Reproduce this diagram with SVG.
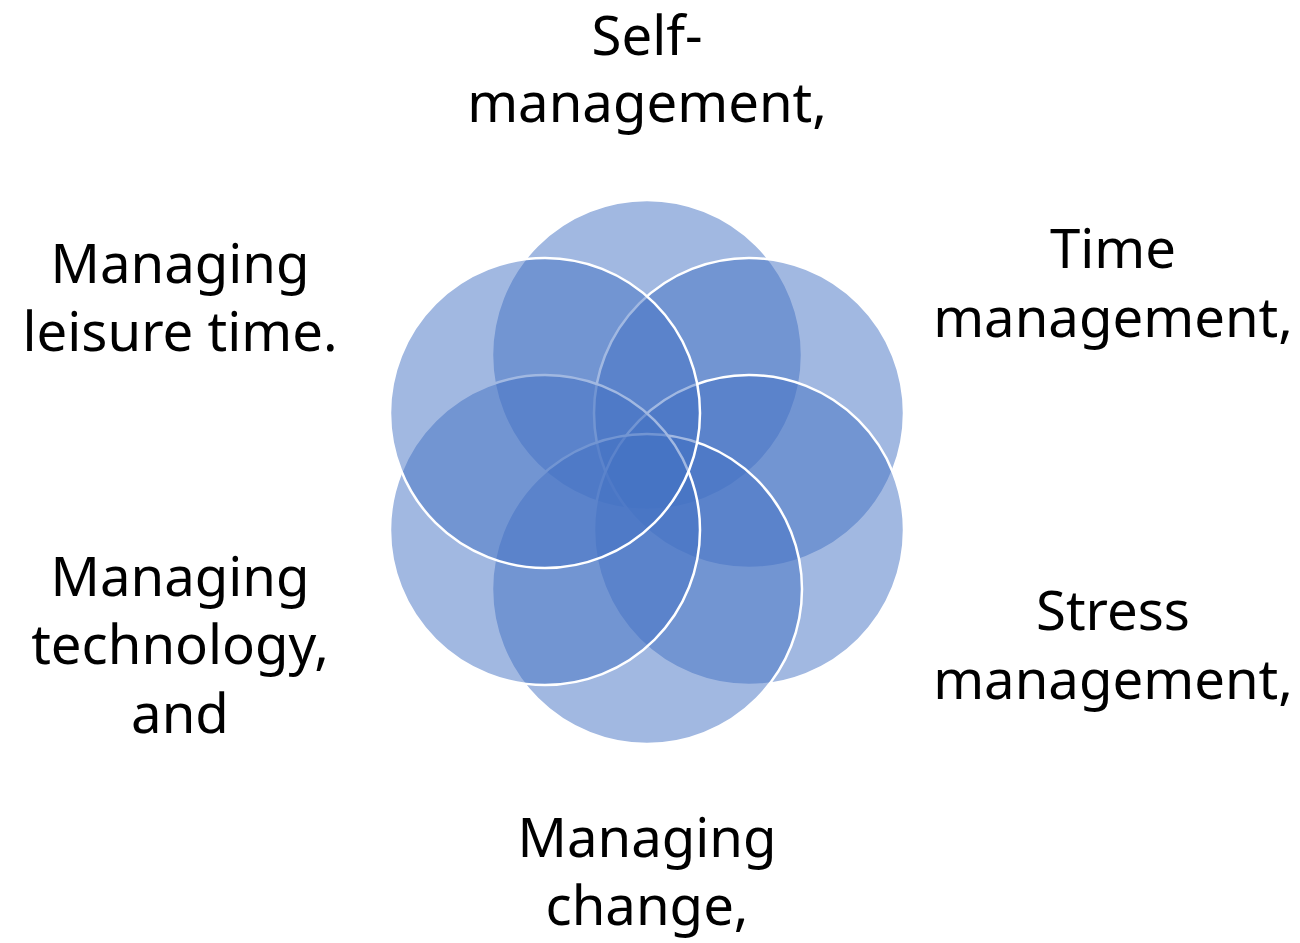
<svg xmlns="http://www.w3.org/2000/svg" width="1300" height="943" viewBox="0 0 1300 943">
  <style>
    .ring { fill: #4472C4; fill-opacity: 0.5; stroke: #FFFFFF; stroke-width: 2.5; }
    .label { font-family: "Noto Sans", "Open Sans", sans-serif; font-size: 54.5px; fill: #000000; text-anchor: middle; }
  </style>
  <rect width="1300" height="943" fill="#FFFFFF"/>

  <!-- six overlapping circles on a hexagon around the centre -->
  <g id="circles">
    <circle id="c-self" class="ring" cx="647" cy="355" r="155"/>
    <circle id="c-time" class="ring" cx="749" cy="413" r="155"/>
    <circle id="c-stress" class="ring" cx="749" cy="530" r="155"/>
    <circle id="c-change" class="ring" cx="647" cy="589" r="155"/>
    <circle id="c-technology" class="ring" cx="545" cy="530" r="155"/>
    <circle id="c-leisure" class="ring" cx="545" cy="413" r="155"/>
  </g>

  <g id="connectors"></g>

  <g id="node-self">
    <text class="label" x="647" y="55">Self-</text>
    <text class="label" x="647" y="122">management,</text>
  </g>
  <g id="node-time">
    <text class="label" x="1113" y="268">Time</text>
    <text class="label" x="1113" y="337">management,</text>
  </g>
  <g id="node-stress">
    <text class="label" x="1113" y="630">Stress</text>
    <text class="label" x="1113" y="699">management,</text>
  </g>
  <g id="node-change">
    <text class="label" x="647" y="857">Managing</text>
    <text class="label" x="647" y="925">change,</text>
  </g>
  <g id="node-technology">
    <text class="label" x="180" y="596">Managing</text>
    <text class="label" x="180" y="664">technology,</text>
    <text class="label" x="180" y="733">and</text>
  </g>
  <g id="node-leisure">
    <text class="label" x="180" y="283">Managing</text>
    <text class="label" x="180" y="351">leisure time.</text>
  </g>
</svg>
